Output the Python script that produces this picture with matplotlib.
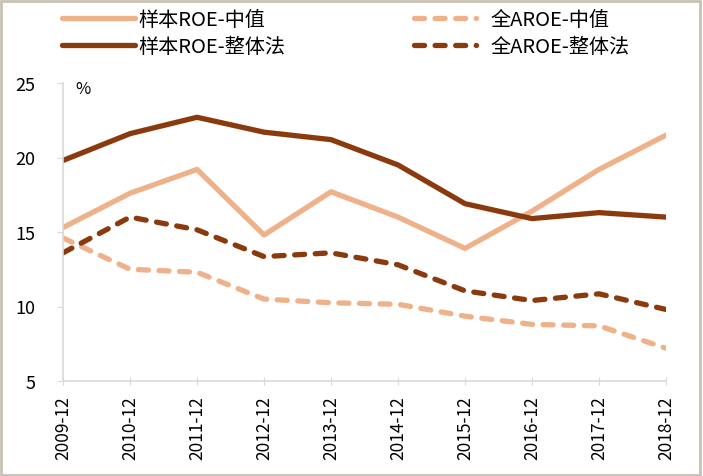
import matplotlib
matplotlib.use("Agg")
import matplotlib.pyplot as plt
from matplotlib.patches import Rectangle

plt.rcParams['font.family'] = ['Noto Sans CJK SC', 'DejaVu Sans']

categories = ["2009-12", "2010-12", "2011-12", "2012-12", "2013-12",
              "2014-12", "2015-12", "2016-12", "2017-12", "2018-12"]
roe_median = [15.3, 17.6, 19.2, 14.8, 17.7, 16.0, 13.9, 16.4, 19.2, 21.5]
roe_overall = [19.8, 21.6, 22.7, 21.7, 21.2, 19.5, 16.9, 15.9, 16.3, 16.0]
aroe_median = [14.6, 12.5, 12.3, 10.5, 10.25, 10.15, 9.35, 8.8, 8.7, 7.2]
aroe_overall = [13.6, 16.0, 15.15, 13.35, 13.6, 12.8, 11.05, 10.4, 10.85, 9.8]
yticks = [5, 10, 15, 20, 25]

light = '#EFB18A'
dark = '#8B3A0E'

fig = plt.figure(figsize=(7.03, 4.77), dpi=100)
ax = fig.add_axes([63/703, 1-382/477, (666-63)/703, (382-84)/477])

x = list(range(len(categories)))
lw = 3.8
dash = (1.9, 2.0)
l1, = ax.plot(x, roe_median, color=light, lw=lw, solid_capstyle='round',
              solid_joinstyle='round', label='样本ROE-中值')
l2, = ax.plot(x, aroe_median, color=light, lw=lw, dashes=dash,
              dash_capstyle='round', dash_joinstyle='round', label='全AROE-中值')
l3, = ax.plot(x, roe_overall, color=dark, lw=lw, solid_capstyle='round',
              solid_joinstyle='round', label='样本ROE-整体法')
l4, = ax.plot(x, aroe_overall, color=dark, lw=lw, dashes=dash,
              dash_capstyle='round', dash_joinstyle='round', label='全AROE-整体法')

ax.set_xlim(0, 9)
ax.set_ylim(5, 25)
ax.set_yticks(yticks)
ax.set_yticklabels([str(v) for v in yticks], fontsize=13)
ax.set_xticks(x)
ax.set_xticklabels(categories, rotation=90, fontsize=12.5, va='top')
for s in ['top', 'right']:
    ax.spines[s].set_visible(False)
for s in ['left', 'bottom']:
    ax.spines[s].set_color('#D9D9D9')
    ax.spines[s].set_linewidth(1.2)
ax.tick_params(axis='y', direction='out', length=4, color='#D9D9D9', pad=16)
ax.tick_params(axis='x', direction='inout', length=6, color='#D9D9D9', pad=7)
ax.text(0.18, 24.6, '%', fontsize=12, va='center', ha='left')

common = dict(loc='upper left', frameon=False, fontsize=14.5, handlelength=3.6,
              handletextpad=0.2, labelspacing=0.28, borderpad=0, borderaxespad=0)
leg1 = fig.legend([l1, l3], [l1.get_label(), l3.get_label()],
                  bbox_to_anchor=(62/703, 1-10/477), **common)
leg2 = fig.legend([l2, l4], [l2.get_label(), l4.get_label()],
                  bbox_to_anchor=(414/703, 1-10/477),
                  **{**common, 'handlelength': 3.1, 'handletextpad': 0.7})

fig.patches.append(Rectangle((0.002, 0.003), 0.994, 0.993, transform=fig.transFigure,
                             fill=False, edgecolor='#C9C2B2', lw=2))

fig.savefig('out.png', dpi=100)
